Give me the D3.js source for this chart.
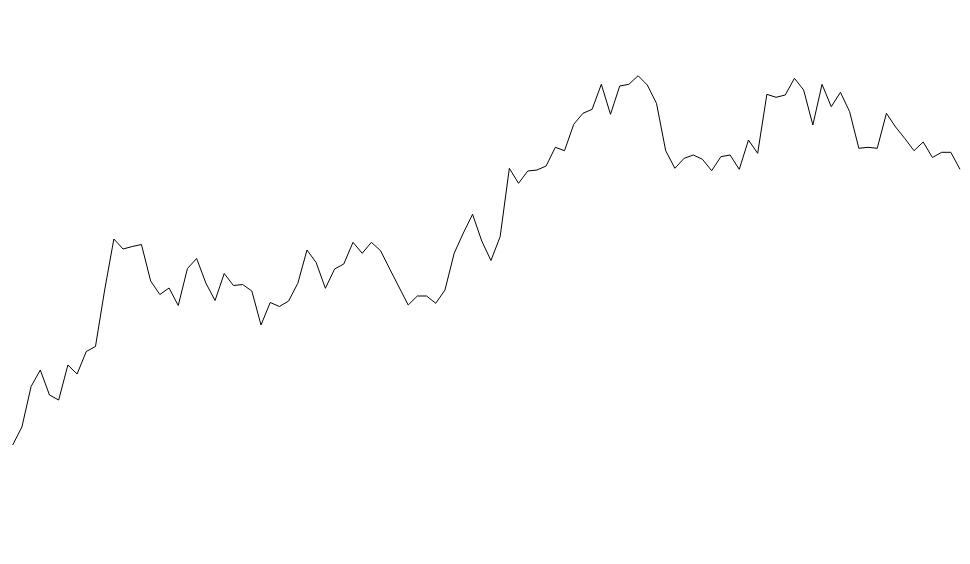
<!DOCTYPE html>
<html>
<head>
<meta charset="utf-8">
<script src="https://cdn.jsdelivr.net/npm/d3@7"></script>
<style>
html,body{margin:0;padding:0;background:#fff;}
svg{display:block;}
</style>
</head>
<body>
<svg id="chart" width="970" height="564"></svg>
<script>
const values = [
  55, 73, 113.5, 130, 105, 100, 135, 126, 148.5, 153.5,
  210, 261, 251, 253.5, 255.5, 219, 205.5, 212, 194.5, 231.5,
  241.5, 217, 199.5, 226.5, 214.5, 215.5, 209, 175, 197.5, 193.5,
  199, 216.7, 250, 237.3, 211.7, 231, 236, 257.7, 246.7, 257.7,
  249.3, 231, 213, 195, 204, 204, 196.7, 210, 246.7, 267,
  285.7, 259, 239.5, 263.3, 331.7, 316.7, 329, 330, 334, 352.7,
  349.3, 375.7, 386.7, 390.7, 415.7, 385.7, 414, 415.7, 424.3, 415,
  396.7, 349.3, 331.7, 341.7, 345, 340.7, 329.3, 343.3, 345, 330.7,
  360, 346.7, 405.7, 402.7, 405, 421.7, 410, 375, 415.7, 393.3,
  407.7, 388.3, 351.7, 352.7, 351.7, 386.7, 373, 361.5, 349.3, 358,
  342.5, 347.7, 347.7, 330.7
];
const indices = values.map((d, i) => i);

const svg = d3.select("#chart");
const x = d3.scaleLinear().domain([0, values.length - 1]).range([12.7, 960]);
const y = d3.scaleLinear().domain([0, 500]).range([500, 0]);

const line = d3.line()
  .x(i => x(i))
  .y(i => y(values[i]));

svg.append("path")
  .datum(indices)
  .attr("fill", "none")
  .attr("stroke", "#000")
  .attr("stroke-width", 1)
  .attr("d", line);
</script>
</body>
</html>
